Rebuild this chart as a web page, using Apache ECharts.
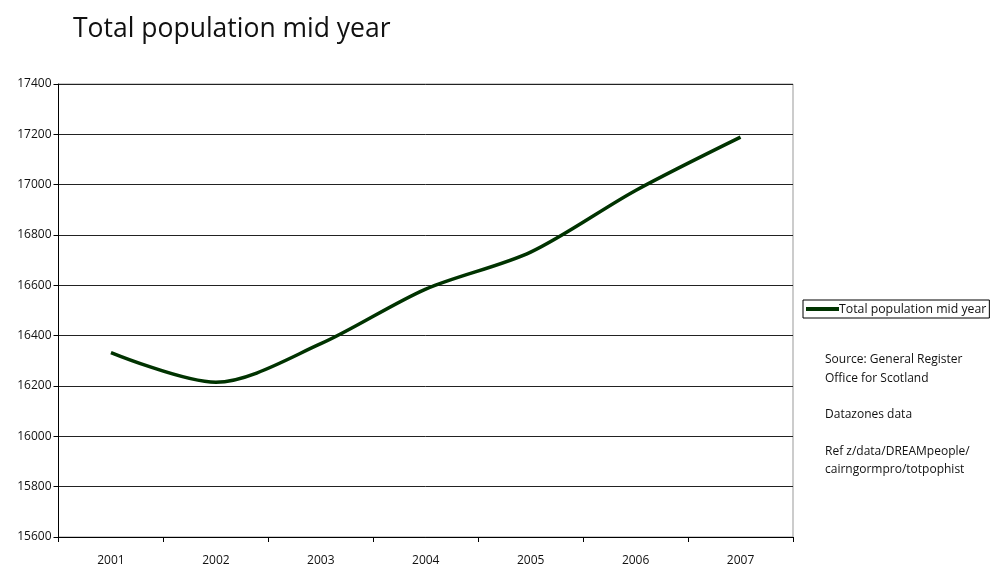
<!DOCTYPE html>
<html>
<head>
<meta charset="utf-8">
<script src="https://cdn.jsdelivr.net/npm/echarts@6/dist/echarts.min.js"></script>
<style>
html,body{margin:0;padding:0;background:#fff;}
#chart{width:992px;height:567px;}
</style>
</head>
<body>
<div id="chart"></div>
<script>
const years = ['2001','2002','2003','2004','2005','2006','2007'];
const population = [16333, 16215, 16368, 16585, 16732, 16977, 17189];
const seriesName = 'Total population mid year';
const titleText = 'Total population mid year';
const noteLines = ['Source: General Register', 'Office for Scotland', '', 'Datazones data', '', 'Ref z/data/DREAMpeople/', 'cairngormpro/totpophist'];

const FONT = '"Open Sans", "Noto Sans", sans-serif';
const chart = echarts.init(document.getElementById('chart'), null, {renderer: 'canvas'});
chart.setOption({
  animation: false,
  backgroundColor: '#fff',
  textStyle: {fontFamily: FONT},
  title: {
    text: titleText,
    left: 68, top: 11,
    textStyle: {fontFamily: FONT, fontSize: 26.5, fontWeight: 'normal', color: '#111'}
  },
  grid: {
    left: 58.5, right: 199, top: 84, bottom: 28.5,
    show: true, borderColor: '#999', borderWidth: 1, backgroundColor: 'transparent'
  },
  legend: {
    data: [{name: seriesName, icon: 'rect'}],
    left: 803, top: 300,
    itemWidth: 33, itemHeight: 4,
    itemGap: 0,
    padding: [3, 3, 3, 3],
    borderColor: '#000', borderWidth: 1,
    textStyle: {fontFamily: FONT, fontSize: 12.3, color: '#111', padding: [0, 0, 0, -5]}
  },
  xAxis: {
    type: 'category',
    data: years,
    boundaryGap: true,
    axisLine: {lineStyle: {color: '#000', width: 1}},
    axisTick: {show: true, length: 5, inside: false, lineStyle: {color: '#000'}},
    axisLabel: {fontFamily: FONT, fontSize: 12, color: '#111', margin: 18},
    splitLine: {show: false}
  },
  yAxis: {
    type: 'value',
    min: 15600, max: 17400, interval: 200,
    axisLine: {show: true, lineStyle: {color: '#000', width: 1}},
    axisTick: {show: true, length: 5, lineStyle: {color: '#000'}},
    axisLabel: {fontFamily: FONT, fontSize: 12, color: '#111', margin: 7, formatter: v => String(v)},
    splitLine: {show: true, lineStyle: {color: '#222', width: 1}}
  },
  series: [{
    name: seriesName,
    type: 'line',
    data: population,
    smooth: 0.3,
    showSymbol: false,
    symbol: 'none',
    lineStyle: {color: '#003300', width: 3.5},
    itemStyle: {color: '#003300'}
  }],
  graphic: noteLines.map((t, i) => ({
    type: 'text',
    left: 825,
    top: 354 + i * 18.3,
    style: {text: t, fontFamily: FONT, fontSize: 12, fill: '#111'}
  }))
});
</script>
</body>
</html>
